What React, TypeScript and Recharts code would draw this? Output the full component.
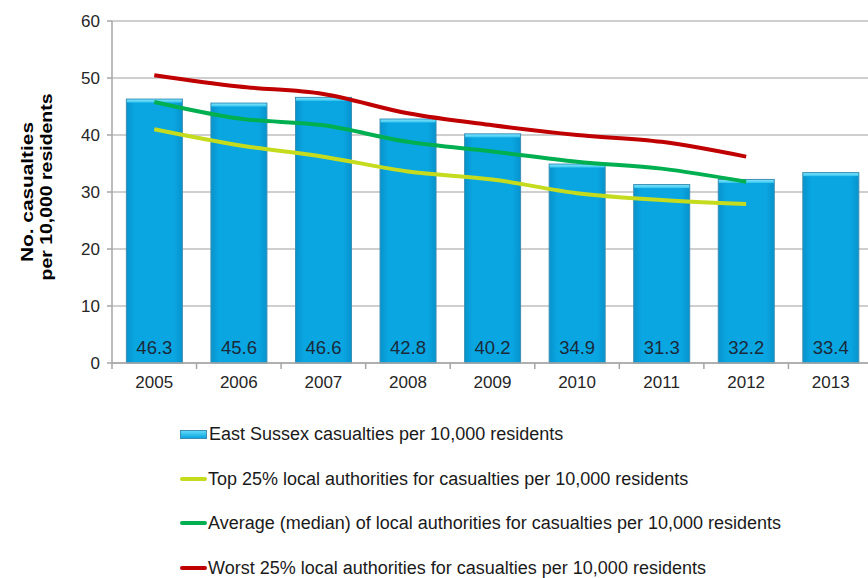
import { Bar, CartesianGrid, ComposedChart, LabelList, Line, XAxis, YAxis } from "recharts";

const years = ["2005", "2006", "2007", "2008", "2009", "2010", "2011", "2012", "2013"];
const eastSussex = [46.3, 45.6, 46.6, 42.8, 40.2, 34.9, 31.3, 32.2, 33.4];
const top25 = [41.0, 38.2, 36.2, 33.6, 32.2, 29.8, 28.6, 27.9, null];
const median = [45.8, 42.9, 41.7, 38.8, 37.1, 35.3, 34.1, 31.8, null];
const worst25 = [50.5, 48.5, 47.2, 43.8, 41.7, 40.0, 38.8, 36.2, null];
const yTicks = [0, 10, 20, 30, 40, 50, 60];

const seriesNames = [
  "East Sussex casualties per 10,000 residents",
  "Top 25% local authorities for casualties per 10,000 residents",
  "Average (median) of local authorities for casualties per 10,000 residents",
  "Worst 25% local authorities for casualties per 10,000 residents",
];

const rows = years.map((year, i) => ({
  year,
  eastSussex: eastSussex[i],
  top25: top25[i],
  median: median[i],
  worst25: worst25[i],
}));

const FONT = "'Liberation Sans', Arial, sans-serif";
const BAR_BLUE = "#0aa6e2";
const YELLOW = "#c5dc1e";
const GREEN = "#00b050";
const RED = "#c00000";

// bar with a lighter cap on top, like the old office 3D style
const CappedBar = (props: any) => {
  const { x, y, width, height } = props;
  if (!height || height <= 0) return null;
  return (
    <g>
      <rect x={x} y={y} width={width} height={height} fill="url(#barFill)" stroke="#3b8fb4" strokeWidth={1} />
      <rect x={x + 0.5} y={y + 0.5} width={width - 1} height={3} fill="url(#capFill)" />
    </g>
  );
};

// ticks between categories instead of at their centres
const YearTick = (props: any) => {
  const { x, y, payload } = props;
  const half = payload?.offset ?? 42;
  return (
    <g>
      <line x1={x - half} y1={y - 13} x2={x - half} y2={y - 7} stroke="#a6a6a6" strokeWidth={1.5} />
      <text x={x} y={y} dy="0.71em" textAnchor="middle" fontSize={17} fill="#262626" fontFamily={FONT}>
        {payload.value}
      </text>
    </g>
  );
};

const legendColors = [BAR_BLUE, YELLOW, GREEN, RED];

export default function App() {
  return (
    <div style={{ position: "fixed", left: 0, top: 0, width: 868, height: 578, overflow: "hidden", background: "#fff" }}>
      <ComposedChart
        width={880}
        height={578}
        data={rows}
        margin={{ top: 21, right: 7, left: 50, bottom: 185 }}
        barCategoryGap="17%"
      >
        <defs>
          <linearGradient id="barFill" x1="0" y1="0" x2="1" y2="0">
            <stop offset="0%" stopColor="#0793cc" />
            <stop offset="15%" stopColor={BAR_BLUE} />
            <stop offset="85%" stopColor={BAR_BLUE} />
            <stop offset="100%" stopColor="#0793cc" />
          </linearGradient>
          <linearGradient id="capFill" x1="0" y1="0" x2="0" y2="1">
            <stop offset="0%" stopColor="#7fe3fa" />
            <stop offset="100%" stopColor="#35c4ef" />
          </linearGradient>
        </defs>
        <CartesianGrid vertical={false} stroke="#bfbfbf" strokeWidth={1.5} />
        <XAxis
          dataKey="year"
          height={30}
          tickLine={false}
          tickSize={6}
          tickMargin={7}
          axisLine={{ stroke: "#a6a6a6", strokeWidth: 1.5 }}
          tick={<YearTick />}
          interval={0}
        />
        <YAxis
          width={62}
          domain={[0, 60]}
          ticks={yTicks}
          tickSize={5}
          tickMargin={7}
          tickLine={{ stroke: "#a6a6a6", strokeWidth: 1.5 }}
          axisLine={{ stroke: "#a6a6a6", strokeWidth: 1.5 }}
          tick={{ fontSize: 17, fill: "#262626", fontFamily: FONT }}
        />
        <Bar dataKey="eastSussex" shape={<CappedBar />} isAnimationActive={false}>
          <LabelList
            dataKey="eastSussex"
            position="insideBottom"
            offset={9}
            style={{ fontSize: 18.5, fill: "#1b2a3a", fontFamily: FONT }}
          />
        </Bar>
        <Line type="monotone" dataKey="top25" stroke={YELLOW} strokeWidth={4} dot={false} isAnimationActive={false} />
        <Line type="monotone" dataKey="median" stroke={GREEN} strokeWidth={4} dot={false} isAnimationActive={false} />
        <Line type="monotone" dataKey="worst25" stroke={RED} strokeWidth={4} dot={false} isAnimationActive={false} />
      </ComposedChart>
      {/* y axis title, two rotated lines stretched to the original width */}
      <svg width={70} height={400} style={{ position: "absolute", left: 0, top: 0 }}>
        <g fontFamily={FONT} fontWeight="bold" fontSize={16} fill="#000">
          <text
            transform="translate(33, 192) rotate(-90)"
            textAnchor="middle"
            textLength={140}
            lengthAdjust="spacingAndGlyphs"
          >
            No. casualties
          </text>
          <text
            transform="translate(52, 187) rotate(-90)"
            textAnchor="middle"
            textLength={187}
            lengthAdjust="spacingAndGlyphs"
          >
            per 10,000 residents
          </text>
        </g>
      </svg>
      <div style={{ position: "absolute", left: 180, top: 412, fontFamily: FONT, fontSize: 18, color: "#1a1a1a" }}>
        {seriesNames.map((name, i) => (
          <div key={name} style={{ display: "flex", alignItems: "center", height: 44.5, lineHeight: "22px", whiteSpace: "nowrap" }}>
            {i === 0 ? (
              <span style={{ display: "inline-block", width: 25, height: 7, background: "linear-gradient(#5fd8f7, #0aa6e2)", border: "1px solid #3b8fb4", marginRight: 2 }} />
            ) : (
              <span style={{ display: "inline-block", width: 27, height: 4, borderRadius: 2, background: legendColors[i], marginRight: 1 }} />
            )}
            <span>{name}</span>
          </div>
        ))}
      </div>
    </div>
  );
}
